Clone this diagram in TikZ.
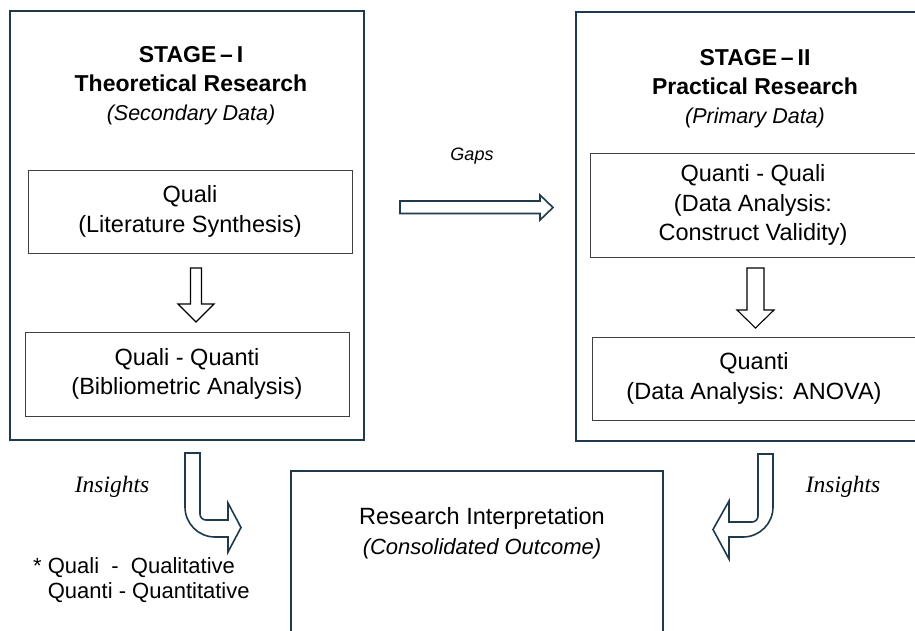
\documentclass[tikz,border=0pt]{standalone}
\usepackage{fontspec}
\setmainfont{Liberation Sans}
\newfontfamily\timesfont{Liberation Serif}
\usepackage{tikz}
\definecolor{deep slate}{HTML}{1E3A4C}
\definecolor{box gray}{HTML}{404040}

\tikzset{
	stagebox/.style = {draw=deep slate, line width=1.8pt, inner sep=0pt},
	innerbox/.style = {draw=box gray, line width=1pt, inner sep=0pt, align=center, font=\fontsize{23.5}{29.5}\selectfont},
	titletext/.style = {align=center, font=\fontsize{23}{29}\selectfont},
	downarrow/.style = {draw=black, line width=1.1pt, fill=white},
	bendarrow/.style = {draw=deep slate, line width=1.6pt, fill=white, line join=miter},
}

\begin{document}
\begin{tikzpicture}[x=1pt, y=-1pt]
			\useasboundingbox (0,0) rectangle (915,630);
			\clip (0,0) rectangle (915,630);
			% stage one
			\begin{scope}
				\node[stagebox, minimum width=354, minimum height=429] (stageI) at (187,225.5) {};
				\node[titletext] (titleI) at (191,86)
					{\textbf{STAGE\,--\,I}\\\textbf{Theoretical Research}\\{\itshape\fontsize{21.5}{29}\selectfont(Secondary Data)}};
				\node[innerbox, minimum width=324, minimum height=83] (qualiI) at (190,211.5) {Quali\\(Literature Synthesis)};
				\node[innerbox, minimum width=324, minimum height=84] (mixI) at (187,374) {Quali - Quanti\\(Bibliometric Analysis)};
				\draw[downarrow] (190.5,268) -- (201.5,268) -- (201.5,304) -- (214,304) -- (196,322) -- (178,304) -- (190.5,304) -- cycle;
			\end{scope}
			% stage two
			\begin{scope}
				\node[stagebox, minimum width=356, minimum height=429] (stageII) at (754,226.5) {};
				\node[titletext] (titleII) at (755,88.5)
					{\textbf{STAGE\,--\,II}\\\textbf{Practical Research}\\{\itshape\fontsize{21.5}{29}\selectfont(Primary Data)}};
				\node[innerbox, minimum width=326, minimum height=104] (mixII) at (753,205) {Quanti - Quali\\(Data Analysis:\\Construct Validity)};
				\node[innerbox, minimum width=324, minimum height=83] (quantiII) at (754,378.5) {Quanti\\(Data Analysis: ANOVA)};
				\draw[downarrow] (747,268) -- (764,268) -- (764,310) -- (774,310) -- (755.5,328) -- (737,310) -- (747,310) -- cycle;
			\end{scope}
			% gaps
			\node[font=\itshape\fontsize{18}{22}\selectfont] (gapsLabel) at (472,156) {Gaps};
			\draw[bendarrow] (400,201) -- (540,201) -- (540,195) -- (553,207.5) -- (540,220) -- (540,213.5) -- (400,213.5) -- cycle;
			% outcome
			\node[stagebox, minimum width=372, minimum height=229] (outcome) at (477,585.5) {};
			\node[align=center, font=\fontsize{23.5}{30}\selectfont] (outcomeText) at (482,533)
				{Research Interpretation\\{\itshape\fontsize{22}{30}\selectfont(Consolidated Outcome)}};
			% insights
			\draw[bendarrow] (185,453) -- (185,507) .. controls (185,523.6) and (198.4,537) .. (215,537) -- (228,537) -- (228,552)
				-- (241,527.5) -- (228,503) -- (228,520) -- (206,520) .. controls (202.7,520) and (200,517.3) .. (200,514) -- (200,453) -- cycle;
			\draw[bendarrow] (773,454) -- (773,507) .. controls (773,523.6) and (759.6,537) .. (743,537) -- (729,537) -- (729,559)
				-- (713,529.5) -- (729,501) -- (729,522) -- (752,522) .. controls (755.3,522) and (758,519.3) .. (758,516) -- (758,454) -- cycle;
			\node[font=\timesfont\itshape\fontsize{23.5}{28}\selectfont] (insightsI) at (112,487) {Insights};
			\node[font=\timesfont\itshape\fontsize{23.5}{28}\selectfont] (insightsII) at (843,487) {Insights};
			% legend
			\node[anchor=west, align=left, inner sep=0pt, font=\fontsize{22}{25}\selectfont] (legend) at (33,580)
				{*\ Quali\ \ -\ \ Qualitative\\\phantom{*\ }Quanti - Quantitative};
		\end{tikzpicture}
\end{document}
